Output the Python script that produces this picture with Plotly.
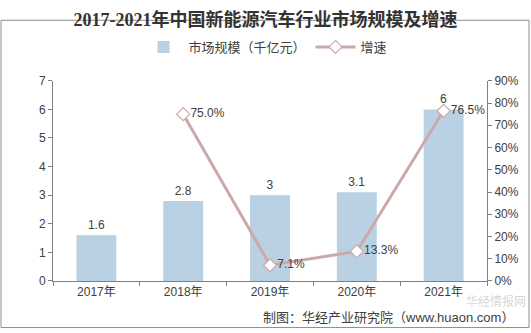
import plotly.graph_objects as go

years = ["2017年", "2018年", "2019年", "2020年", "2021年"]
market_size = [1.6, 2.8, 3, 3.1, 6]
bar_labels = ["1.6", "2.8", "3", "3.1", "6"]
growth_years = ["2018年", "2019年", "2020年", "2021年"]
growth = [0.75, 0.071, 0.133, 0.765]
growth_labels = ["75.0%", "7.1%", "13.3%", "76.5%"]

W, H = 531, 333
L, R, T, B = 53, 44, 66, 52
pw, ph = W - L - R, H - T - B

def px(x):
    return (x - L) / pw

def py(y):
    return (H - B - y) / ph

font_main = "Liberation Sans, Noto Sans CJK SC, sans-serif"

fig = go.Figure()
fig.add_trace(go.Bar(
    x=years, y=market_size, name="市场规模（千亿元）",
    marker=dict(color="#B9D1E2", line=dict(width=0)),
    width=0.46,
    text=bar_labels, textposition="outside", cliponaxis=False,
    textfont=dict(size=12, color="#404040", family=font_main),
    yaxis="y",
))
fig.add_trace(go.Scatter(
    x=growth_years, y=growth, name="增速",
    mode="lines+markers+text",
    line=dict(color="#CDA8AA", width=3),
    marker=dict(symbol="diamond", size=10, color="white",
                line=dict(color="#CDA8AA", width=1.2)),
    text=growth_labels, textposition="middle right", cliponaxis=False,
    textfont=dict(size=12, color="#404040", family=font_main),
    yaxis="y2",
))

axis_col = "#7F7F7F"
fig.update_layout(
    width=W, height=H,
    margin=dict(l=L, r=R, t=T, b=B),
    paper_bgcolor="white", plot_bgcolor="white",
    font=dict(family=font_main, size=12, color="#404040"),
    bargap=0.54,
    showlegend=True,
    legend=dict(orientation="h", x=0.5, xanchor="center", xref="container",
                y=(H - 47) / H, yref="container", yanchor="middle",
                font=dict(size=13, color="#404040"), itemwidth=40,
                bgcolor="rgba(0,0,0,0)"),
    xaxis=dict(type="category", showline=True, linecolor=axis_col, linewidth=1,
               ticks="outside", tickson="boundaries", ticklen=4, tickcolor=axis_col,
               showgrid=False, tickfont=dict(size=12, color="#404040")),
    yaxis=dict(range=[0, 7], dtick=1, showline=True, linecolor=axis_col, linewidth=1,
               ticks="outside", ticklen=4, tickcolor=axis_col, showgrid=False,
               zeroline=False, tickfont=dict(size=12, color="#404040")),
    yaxis2=dict(range=[0, 0.9], dtick=0.1, tickformat=".0%", overlaying="y", side="right",
                showline=True, linecolor=axis_col, linewidth=1,
                ticks="outside", ticklen=4, tickcolor=axis_col, showgrid=False,
                zeroline=False, tickfont=dict(size=12, color="#404040")),
    title=dict(text="<b>2017-2021年中国新能源汽车行业市场规模及增速</b>",
               x=0.5, xanchor="center", xref="container",
               y=(H - 20) / H, yanchor="middle",
               font=dict(size=18, color="#333333",
                         family="Liberation Serif, Noto Sans CJK SC, serif")),
)

fig.add_annotation(text="华经情报网", x=px(496), y=py(302), xref="paper", yref="paper",
                   xanchor="center", yanchor="middle",
                   showarrow=False, font=dict(size=12, color="rgba(150,150,150,0.4)",
                                              family="Noto Sans CJK SC"))
fig.add_annotation(text="制图：华经产业研究院（www.huaon.com）", x=px(516), y=py(320),
                   xref="paper", yref="paper", xanchor="right", yanchor="middle",
                   showarrow=False, font=dict(size=13, color="#404040"))

fig.add_shape(type="rect", xref="paper", yref="paper",
              x0=px(1), x1=px(529), y0=py(331), y1=py(1),
              line=dict(color="#8C8C8C", width=1), layer="below")

fig.write_html("out.html")
